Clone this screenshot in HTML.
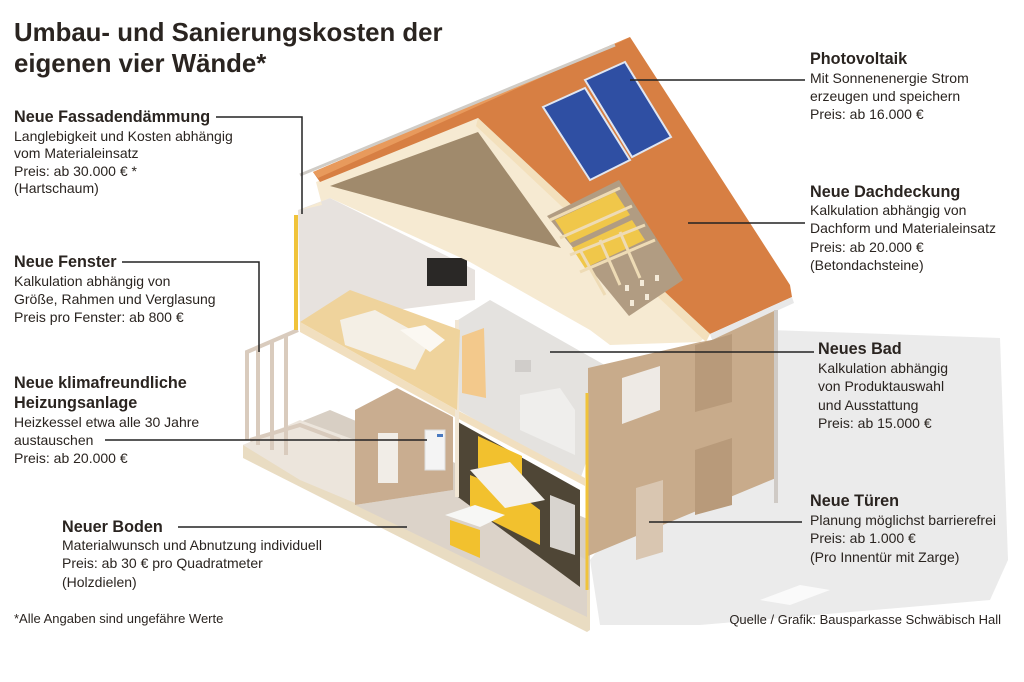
<!DOCTYPE html>
<html><head><meta charset="utf-8"><style>
html,body{margin:0;padding:0;background:#fff;}
svg{display:block;}
text{font-family:"Liberation Sans",sans-serif;fill:#2a2420;}
.h{font-weight:bold;font-size:16.2px;}
.b{font-size:14px;}
</style></head><body>
<svg width="1024" height="682" viewBox="0 0 1024 682" xmlns="http://www.w3.org/2000/svg">
<!-- shadow -->
<polygon points="770,330 1000,338 1008,560 990,600 700,625 600,625 590,560" fill="#ebebeb"/>
<polygon points="760,600 800,585 830,590 790,605" fill="#fafafa"/>
<!-- ground slab -->
<polygon points="243,445 590,590 590,630 587,632 243,458" fill="#e9dcc2"/>
<polygon points="243,445 330,410 590,520 590,590" fill="#d8cfc4"/>
<!-- terrace -->
<polygon points="243,445 300,420 355,440 355,503 300,480" fill="#ece5dc"/>
<g stroke="#d9cbbd" stroke-width="4" fill="none">
<polyline points="247,440 247,352 298,330"/>
<line x1="258" y1="445" x2="258" y2="348"/><line x1="272" y1="450" x2="272" y2="342"/><line x1="286" y1="455" x2="286" y2="336"/>
<polyline points="250,440 300,425 340,440"/>
</g>
<!-- ground floor left room wall -->
<polygon points="355,410 397,388 453,417 453,490 355,505" fill="#c9ad90"/>
<rect x="378" y="433" width="20" height="50" fill="#f1ede7"/>
<rect x="425" y="430" width="20" height="40" fill="#f4f4f4" stroke="#ddd"/>
<rect x="437" y="434" width="6" height="3" fill="#4a7ac0"/>
<polygon points="355,505 453,490 587,560 587,617" fill="#dcd3c9"/>
<!-- kitchen -->
<polygon points="458,422 580,490 580,587 458,497" fill="#4f4636"/>
<polygon points="478,436 522,456 522,488 478,468" fill="#f2c12e"/>
<polygon points="470,475 520,495 540,510 540,545 470,510" fill="#f2c12e"/>
<polygon points="470,470 510,462 545,500 505,508" fill="#f4f1ec"/>
<polygon points="445,515 475,505 505,515 480,527" fill="#f7f7f5"/>
<polygon points="450,520 480,530 480,558 450,545" fill="#f2c12e"/>
<polygon points="550,495 575,505 575,555 550,547" fill="#d8d4cf"/>
<!-- bathroom -->
<polygon points="458,320 490,300 617,372 580,480 458,410" fill="#e4e2df"/>
<polygon points="462,336 484,328 486,398 462,393" fill="#f3c98c"/>
<polygon points="520,395 560,388 575,410 575,455 520,430" fill="#efeeec"/>
<rect x="515" y="360" width="16" height="12" fill="#d0cdca"/>
<!-- middle slab -->
<polygon points="300,322 300,332 457,418 585,486 585,478 457,410" fill="#f1dfbf"/>
<line x1="457" y1="320" x2="457" y2="497" stroke="#f1e6d4" stroke-width="4"/>
<!-- upper living room -->
<polygon points="298,210 330,198 475,270 475,300 300,322" fill="#e7e2de"/>
<polygon points="300,322 350,290 460,330 457,410" fill="#efd39c"/>
<rect x="427" y="258" width="40" height="28" fill="#2a2826"/>
<polygon points="340,320 375,310 430,340 415,370 345,345" fill="#f4efe5"/>
<polygon points="400,330 425,325 445,340 430,352" fill="#fbf8f2"/>
<!-- gable / attic -->
<polygon points="478,118 316,182 322,205 300,210 330,198 470,262 590,330 610,345 700,342 712,330" fill="#f6ead2"/>
<polygon points="478,132 330,186 561,248" fill="#a08a6c"/>
<!-- roof -->
<polygon points="630,37 790,285 792,297 710,334 478,118 320,182 313,172" fill="#d77f43"/>
<polygon points="313,172 630,37 620,42 318,178" fill="#e89a5c"/>
<polyline points="300,175 615,45" stroke="#d0ccc6" stroke-width="3" fill="none"/>
<polygon points="478,118 710,334 706,342 476,126" fill="#f3e0bc"/>
<polygon points="710,334 792,297 794,303 712,340" fill="#e8e8e8"/>
<!-- roof cutaway rafters -->
<polygon points="547,216 619,180 683,280 629,316" fill="#b19c82"/>
<g fill="#f0c74a">
<polygon points="555,220 615,192 630,215 570,243"/>
<polygon points="572,248 632,220 645,240 585,268"/>
</g>
<g stroke="#eedbb5" stroke-width="3">
<line x1="550" y1="220" x2="620" y2="188"/><line x1="560" y1="238" x2="632" y2="206"/><line x1="570" y1="255" x2="645" y2="225"/><line x1="580" y1="272" x2="655" y2="240"/>
<line x1="580" y1="250" x2="605" y2="295"/><line x1="600" y1="240" x2="620" y2="285"/><line x1="620" y1="232" x2="640" y2="278"/>
</g>
<g fill="#f4ead8"><rect x="625" y="285" width="4" height="6"/><rect x="640" y="280" width="4" height="6"/><rect x="655" y="275" width="4" height="6"/><rect x="630" y="300" width="4" height="6"/><rect x="645" y="294" width="4" height="6"/></g>
<!-- solar panels -->
<polygon points="543,107 585,88 630,160 590,180" fill="#2f4fa3" stroke="#dfe6f2" stroke-width="2"/>
<polygon points="585,80 625,62 671,137 632,157" fill="#2f4fa3" stroke="#dfe6f2" stroke-width="2"/>
<!-- front right wall -->
<polygon points="588,368 700,342 712,340 776,310 776,478 588,556" fill="#c8ab8b"/>
<polygon points="622,378 660,366 660,410 622,424" fill="#eeeae5"/>
<polygon points="695,345 732,334 732,402 695,412" fill="#b89a7a"/>
<polygon points="695,450 732,438 732,505 695,515" fill="#b89a7a"/>
<polygon points="636,488 663,480 663,552 636,560" fill="#d9c6b1"/>
<line x1="776" y1="310" x2="776" y2="503" stroke="#cfcac5" stroke-width="4"/>
<line x1="587" y1="393" x2="587" y2="590" stroke="#f0c33a" stroke-width="3"/>
<line x1="296" y1="215" x2="296" y2="330" stroke="#f0c33a" stroke-width="4"/>
<!-- connectors -->
<g stroke="#222" stroke-width="1.5" fill="none">
<polyline points="216,117 302,117 302,214"/>
<polyline points="122,262 259,262 259,352"/>
<line x1="105" y1="440" x2="427" y2="440"/>
<line x1="178" y1="527" x2="407" y2="527"/>
<line x1="630" y1="80" x2="805" y2="80"/>
<line x1="688" y1="223" x2="805" y2="223"/>
<line x1="550" y1="352" x2="814" y2="352"/>
<line x1="649" y1="522" x2="802" y2="522"/>
</g>
<!-- text -->
<text x="14" y="41" style="font-weight:bold;font-size:25.8px">Umbau- und Sanierungskosten der</text>
<text x="14" y="72" style="font-weight:bold;font-size:25.8px">eigenen vier Wände*</text>

<text class="h" x="14" y="122">Neue Fassadendämmung</text>
<text class="b" x="14" y="141">Langlebigkeit und Kosten abhängig</text>
<text class="b" x="14" y="158">vom Materialeinsatz</text>
<text class="b" x="14" y="176">Preis: ab 30.000 € *</text>
<text class="b" x="14" y="193">(Hartschaum)</text>

<text class="h" x="14" y="267">Neue Fenster</text>
<text class="b" x="14" y="286">Kalkulation abhängig von</text>
<text class="b" x="14" y="304">Größe, Rahmen und Verglasung</text>
<text class="b" x="14" y="322">Preis pro Fenster: ab 800 €</text>

<text class="h" x="14" y="388">Neue klimafreundliche</text>
<text class="h" x="14" y="408">Heizungsanlage</text>
<text class="b" x="14" y="427">Heizkessel etwa alle 30 Jahre</text>
<text class="b" x="14" y="445">austauschen</text>
<text class="b" x="14" y="463">Preis: ab 20.000 €</text>

<text class="h" x="62" y="532">Neuer Boden</text>
<text class="b" x="62" y="550">Materialwunsch und Abnutzung individuell</text>
<text class="b" x="62" y="568">Preis: ab 30 € pro Quadratmeter</text>
<text class="b" x="62" y="587">(Holzdielen)</text>

<text class="b" x="14" y="623" style="font-size:13px">*Alle Angaben sind ungefähre Werte</text>

<text class="h" x="810" y="64">Photovoltaik</text>
<text class="b" x="810" y="83">Mit Sonnenenergie Strom</text>
<text class="b" x="810" y="101">erzeugen und speichern</text>
<text class="b" x="810" y="119">Preis: ab 16.000 €</text>

<text class="h" x="810" y="197">Neue Dachdeckung</text>
<text class="b" x="810" y="215">Kalkulation abhängig von</text>
<text class="b" x="810" y="233">Dachform und Materialeinsatz</text>
<text class="b" x="810" y="252">Preis: ab 20.000 €</text>
<text class="b" x="810" y="270">(Betondachsteine)</text>

<text class="h" x="818" y="354">Neues Bad</text>
<text class="b" x="818" y="373">Kalkulation abhängig</text>
<text class="b" x="818" y="391">von Produktauswahl</text>
<text class="b" x="818" y="410">und Ausstattung</text>
<text class="b" x="818" y="428">Preis: ab 15.000 €</text>

<text class="h" x="810" y="506">Neue Türen</text>
<text class="b" x="810" y="525">Planung möglichst barrierefrei</text>
<text class="b" x="810" y="543">Preis: ab 1.000 €</text>
<text class="b" x="810" y="562">(Pro Innentür mit Zarge)</text>

<text class="b" x="1001" y="624" text-anchor="end" style="font-size:13px">Quelle / Grafik: Bausparkasse Schwäbisch Hall</text>
</svg>
</body></html>
